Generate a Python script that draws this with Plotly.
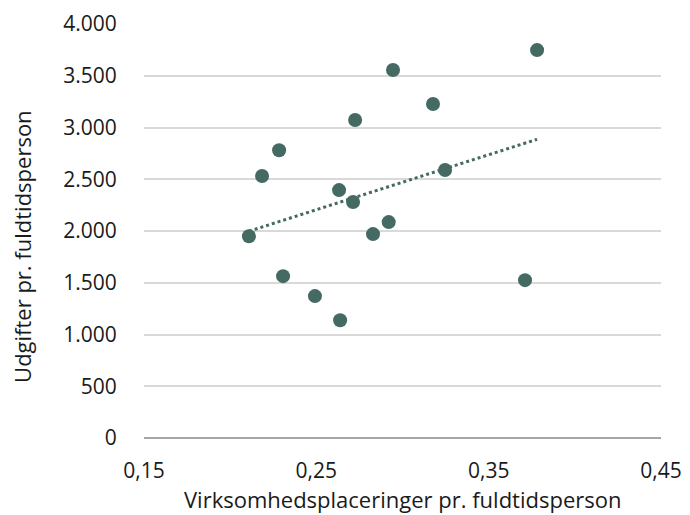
import numpy as np
import plotly.graph_objects as go

x_vals = [0.2109, 0.2185, 0.2284, 0.2307, 0.2492, 0.2638, 0.2632, 0.2713,
          0.2725, 0.2829, 0.2920, 0.2945, 0.3177, 0.3247, 0.3711, 0.3781]
y_vals = [1950, 2531, 2780, 1564, 1371, 1138, 2395, 2280,
          3073, 1970, 2086, 3556, 3227, 2589, 1525, 3748]

x_ticks = [0.15, 0.25, 0.35, 0.45]
y_ticks = [0, 500, 1000, 1500, 2000, 2500, 3000, 3500, 4000]

x_title = "Virksomhedsplaceringer pr. fuldtidsperson"
y_title = "Udgifter pr. fuldtidsperson"

color = "#456963"
font = "Open Sans"
text_color = "#1a1a1a"

slope, intercept = np.polyfit(x_vals, y_vals, 1)
tx = np.array([min(x_vals), max(x_vals)])
ty = slope * tx + intercept

fig = go.Figure()
fig.add_trace(go.Scatter(x=tx, y=ty, mode="lines",
                         line=dict(color=color, width=3, dash="dot"),
                         hoverinfo="skip", showlegend=False))
fig.add_trace(go.Scatter(x=x_vals, y=y_vals, mode="markers",
                         marker=dict(color=color, size=14),
                         showlegend=False))

fig.update_layout(
    width=690, height=515,
    margin=dict(l=144, r=29, t=24, b=77),
    paper_bgcolor="white", plot_bgcolor="white",
    separators=",.",
    font=dict(family=font, size=21, color=text_color),
    xaxis=dict(range=[0.15, 0.45], tickvals=x_ticks, tickformat=".2f",
               showgrid=False, zeroline=False, showline=False,
               automargin=False,
               ticks="outside", ticklen=14, tickcolor="rgba(0,0,0,0)"),
    yaxis=dict(range=[0, 4000], tickvals=y_ticks, tickformat=",.0f",
               showgrid=True, gridcolor="#d9d9d9", gridwidth=1.5,
               zeroline=True, zerolinecolor="#a6a6a6", zerolinewidth=1.5,
               showline=False, automargin=False,
               ticks="outside", ticklen=22,
               tickcolor="rgba(0,0,0,0)"),
    annotations=[
        dict(text=x_title, xref="paper", yref="paper", x=0.5, y=-0.148,
             xanchor="center", yanchor="middle", showarrow=False,
             font=dict(size=22, color=text_color)),
        dict(text=y_title, xref="paper", yref="paper", x=-0.236, y=0.464,
             xanchor="center", yanchor="middle", showarrow=False,
             textangle=-90, font=dict(size=22, color=text_color)),
    ],
)

fig.write_html("out.html")
